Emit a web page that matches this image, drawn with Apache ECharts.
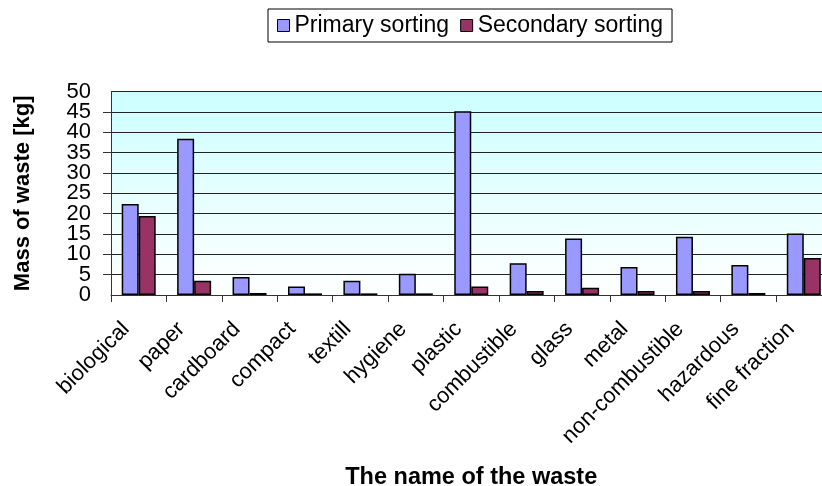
<!DOCTYPE html>
<html>
<head>
<meta charset="utf-8">
<script src="https://cdn.jsdelivr.net/npm/echarts@6/dist/echarts.min.js"></script>
<style>
  html, body { margin: 0; padding: 0; background: #fff; }
  #chart { width: 822px; height: 486px; }
</style>
</head>
<body>
<div id="chart"></div>
<script>
var categories = ['biological', 'paper', 'cardboard', 'compact', 'textill', 'hygiene', 'plastic',
  'combustible', 'glass', 'metal', 'non-combustible', 'hazardous', 'fine fraction']
var primarySorting = [22.4, 38.4, 4.4, 2.1, 3.5, 5.2, 45.2, 7.8, 13.9, 6.9, 14.3, 7.4, 15.1]
var secondarySorting = [19.4, 3.5, 0.5, 0.4, 0.4, 0.4, 2.1, 1.0, 1.8, 1.0, 1.0, 0.5, 9.1]

var font = 'Liberation Sans, Arial, sans-serif'
var yLabelRich = { v: { fontSize: 22, height: 14, lineHeight: 14, color: '#000', fontFamily: font } }

var chart = echarts.init(document.getElementById('chart'))
chart.setOption({
  animation: false,
  textStyle: { fontFamily: font, color: '#000' },
  legend: {
    left: 268,
    top: 9,
    padding: [5, 9, 5, 9],
    borderColor: '#000',
    borderWidth: 1,
    icon: 'rect',
    itemWidth: 12,
    itemHeight: 12,
    itemGap: 11,
    textStyle: { fontSize: 23, color: '#000', fontFamily: font },
    itemStyle: { borderColor: '#000', borderWidth: 1 },
    data: ['Primary sorting', 'Secondary sorting']
  },
  grid: {
    left: 111,
    right: -9.5,
    top: 91.7,
    bottom: 191,
    outerBoundsMode: 'none',
    containLabel: false,
    show: true,
    borderWidth: 0,
    backgroundColor: new echarts.graphic.LinearGradient(0, 0, 0, 1, [
      { offset: 0, color: '#CCFFFF' },
      { offset: 1, color: '#FFFFFF' }
    ])
  },
  xAxis: {
    type: 'category',
    data: categories,
    name: 'The name of the waste',
    nameLocation: 'middle',
    nameGap: 171,
    nameTextStyle: { fontSize: 23.5, fontWeight: 'bold', color: '#000' },
    axisLine: { lineStyle: { color: '#333', width: 1 } },
    axisTick: { show: true, length: 7, lineStyle: { color: '#333' } },
    axisLabel: { rotate: 45, fontSize: 22, color: '#000', margin: 18, padding: [0, 18, 0, 0], interval: 0 }
  },
  yAxis: [
    {
      type: 'value',
      min: 0,
      max: 50,
      interval: 5,
      name: 'Mass of waste [kg]',
      nameLocation: 'middle',
      nameGap: 77,
      nameTextStyle: { fontSize: 22, fontWeight: 'bold', color: '#000' },
      axisLine: { show: true, lineStyle: { color: '#333', width: 1 } },
      axisTick: { show: true, length: 8, lineStyle: { color: '#333' } },
      axisLabel: { formatter: '{v|{value}}', rich: yLabelRich, margin: 20 },
      splitLine: { show: true, lineStyle: { color: '#222', width: 1 } }
    },
    {
      // end labels 0 and 50, which the first axis drops as overlapping
      type: 'value',
      position: 'left',
      min: 0,
      max: 50,
      interval: 50,
      axisLine: { show: false },
      axisTick: { show: false },
      splitLine: { show: false },
      axisLabel: { formatter: '{v|{value}}', rich: yLabelRich, margin: 20, showMinLabel: true, showMaxLabel: true }
    }
  ],
  series: [
    {
      name: 'Primary sorting',
      type: 'bar',
      barWidth: 17,
      barGap: '0%',
      itemStyle: { color: '#9999FF', borderColor: '#000', borderWidth: 1.5 },
      data: primarySorting
    },
    {
      name: 'Secondary sorting',
      type: 'bar',
      barWidth: 17,
      barGap: '0%',
      itemStyle: { color: '#993366', borderColor: '#000', borderWidth: 1.5 },
      data: secondarySorting
    }
  ]
})
</script>
</body>
</html>
